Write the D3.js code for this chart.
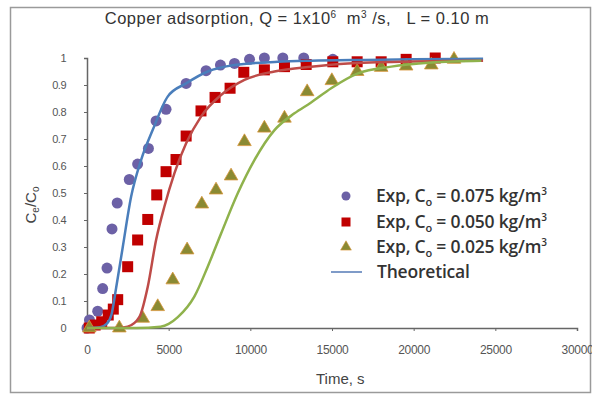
<!DOCTYPE html>
<html>
<head>
<meta charset="utf-8">
<script src="https://cdn.jsdelivr.net/npm/d3@7"></script>
<style>
  html, body { margin: 0; padding: 0; background: #fff; }
  svg { display: block; }
</style>
</head>
<body>
<script>
// experimental points (time in s, Ce/Co)
const expHighT = [0, 150, 655, 960, 1225, 1530, 1850, 2590, 3100, 3760, 4230, 4840, 6070, 7290, 8170, 9030, 9950, 10860, 11990, 13270, 15050];
const expHighV = [0, 0.03, 0.062, 0.146, 0.222, 0.367, 0.463, 0.55, 0.607, 0.665, 0.767, 0.81, 0.906, 0.953, 0.974, 0.98, 0.995, 1.0, 1.0, 1.0, 0.995];

const expMidT = [140, 500, 900, 1300, 1610, 1880, 2490, 3100, 3720, 4270, 4840, 5450, 6070, 6980, 7840, 8760, 9600, 10860, 12090, 13420, 15050, 16540, 18010, 19540, 21320];
const expMidV = [0, 0.011, 0.023, 0.048, 0.07, 0.105, 0.227, 0.326, 0.402, 0.493, 0.579, 0.624, 0.711, 0.804, 0.854, 0.888, 0.947, 0.956, 0.968, 0.976, 0.986, 0.986, 0.986, 0.995, 1.0];

const expLowT = [140, 1980, 3410, 4330, 5250, 6130, 7030, 7900, 8820, 9640, 10860, 12090, 13480, 14990, 16540, 18010, 19540, 21080, 22470];
const expLowV = [0, 0, 0.036, 0.079, 0.178, 0.289, 0.459, 0.511, 0.563, 0.69, 0.74, 0.777, 0.875, 0.916, 0.95, 0.965, 0.97, 0.974, 0.995];

// theoretical curves
const thHighT = [0, 800, 1200, 1500, 1780, 2190, 2700, 3310, 4020, 4940, 6070, 7390, 9030, 11680, 13720, 17000, 20000, 24250];
const thHighV = [0, 0.003, 0.015, 0.05, 0.147, 0.30, 0.486, 0.622, 0.733, 0.857, 0.906, 0.95, 0.974, 0.986, 0.99, 0.993, 0.995, 0.997];

const thMidT = [0, 1800, 2490, 3200, 3720, 4230, 4740, 5350, 6070, 6980, 8210, 9640, 11480, 13720, 15970, 20000, 24250];
const thMidV = [0, 0, 0.005, 0.04, 0.153, 0.326, 0.45, 0.573, 0.684, 0.783, 0.863, 0.919, 0.95, 0.968, 0.98, 0.987, 0.99];

const thLowT = [0, 3000, 4500, 5000, 5560, 6570, 7390, 8210, 9230, 10250, 11480, 12700, 13720, 14950, 16590, 18630, 21080, 24140];
const thLowV = [0, 0, 0.005, 0.015, 0.04, 0.116, 0.227, 0.35, 0.499, 0.622, 0.733, 0.795, 0.835, 0.888, 0.943, 0.968, 0.983, 0.99];

const xTicks = [0, 5000, 10000, 15000, 20000, 25000, 30000];
const yTicks = [0, 0.1, 0.2, 0.3, 0.4, 0.5, 0.6, 0.7, 0.8, 0.9, 1];
const legendLabels = ['0.075', '0.050', '0.025'];

const W = 592, H = 394;
const svg = d3.select('body').append('svg').attr('width', W).attr('height', H);

// outer chart frame
svg.append('rect')
  .attr('x', 10.5).attr('y', 7.5).attr('width', 580).attr('height', 385)
  .attr('fill', '#fff').attr('stroke', '#9a9a9a').attr('stroke-width', 1.5);

const x = d3.scaleLinear().domain([0, 30000]).range([87, 577]);
const y = d3.scaleLinear().domain([0, 1]).range([328, 58]);

const txt = '#555';
const tickFont = 'Liberation Sans, Arial, sans-serif';

// axes
const gx = svg.append('g').attr('transform', 'translate(0,328)')
  .call(d3.axisBottom(x).tickValues(xTicks).tickFormat(d3.format('d')).tickSize(3).tickPadding(14));
const gy = svg.append('g').attr('transform', 'translate(87,0)')
  .call(d3.axisLeft(y).tickValues(yTicks).tickFormat(d => d === 0 || d === 1 ? d : d.toFixed(1)).tickSize(3).tickPadding(18));
[gx, gy].forEach(g => {
  g.select('.domain').attr('stroke', '#666').attr('stroke-width', 1.5);
  g.selectAll('.tick line').attr('stroke', '#666');
  g.selectAll('.tick text').attr('fill', txt).attr('font-family', tickFont);
});
gx.selectAll('.tick text').attr('font-size', 12).attr('letter-spacing', -0.3);
gy.selectAll('.tick text').attr('font-size', 11).attr('letter-spacing', -0.5);

// title
const title = svg.append('text').attr('x', 297).attr('y', 24).attr('text-anchor', 'middle')
  .style('white-space', 'pre')
  .attr('font-family', tickFont).attr('font-size', 16.5).attr('fill', '#333').attr('letter-spacing', 0.5);
title.append('tspan').text('Copper adsorption, Q = 1x10');
title.append('tspan').attr('font-size', 10).attr('dy', -6).text('6');
title.append('tspan').attr('dy', 6).text('  m');
title.append('tspan').attr('font-size', 10).attr('dy', -6).text('3');
title.append('tspan').attr('dy', 6).text(' /s,   L = 0.10 m');

// axis titles
const yl = svg.append('text').attr('transform', 'translate(36,205) rotate(-90)')
  .attr('text-anchor', 'middle').attr('font-family', tickFont).attr('font-size', 15).attr('fill', '#444');
yl.append('tspan').text('C');
yl.append('tspan').attr('font-size', 10).attr('dy', 3).text('e');
yl.append('tspan').attr('dy', -3).text('/C');
yl.append('tspan').attr('font-size', 10).attr('dy', 3).text('o');

svg.append('text').attr('x', 316).attr('y', 384)
  .attr('font-family', tickFont).attr('font-size', 15).attr('fill', '#444').text('Time, s');

// markers
const circColor = '#6c61a6', sqColor = '#c00000', triColor = '#8a8a33', triEdge = '#d8953a';
const zip = (a, b) => a.map((t, i) => [t, b[i]]);

svg.append('g').selectAll('circle').data(zip(expHighT, expHighV)).join('circle')
  .attr('cx', d => x(d[0])).attr('cy', d => y(d[1])).attr('r', 5.5).attr('fill', circColor);

svg.append('g').selectAll('rect').data(zip(expMidT, expMidV)).join('rect')
  .attr('x', d => x(d[0]) - 5.5).attr('y', d => y(d[1]) - 5.5).attr('width', 11).attr('height', 11).attr('fill', sqColor);

const tri = d3.symbol().type(d3.symbolTriangle).size(80);
svg.append('g').selectAll('path').data(zip(expLowT, expLowV)).join('path')
  .attr('transform', d => `translate(${x(d[0])},${y(d[1])})`)
  .attr('d', tri).attr('fill', triColor).attr('stroke', triEdge).attr('stroke-width', 0.8);

// theoretical lines
const line = d3.line().x(d => x(d[0])).y(d => y(d[1])).curve(d3.curveMonotoneX);
[[thHighT, thHighV, '#4a7ebb'], [thMidT, thMidV, '#be4b48'], [thLowT, thLowV, '#8fb24c']].forEach(([t, v, c]) => {
  svg.append('path').datum(zip(t, v)).attr('d', line)
    .attr('fill', 'none').attr('stroke', c).attr('stroke-width', 2.5);
});

// legend
const lg = svg.append('g');
const legFont = 'Open Sans, Liberation Sans, sans-serif';
const rowY = [196, 222, 247, 272];
legendLabels.forEach((lab, i) => {
  const yy = rowY[i];
  if (i === 0) lg.append('circle').attr('cx', 346).attr('cy', yy).attr('r', 4.5).attr('fill', circColor);
  if (i === 1) lg.append('rect').attr('x', 341.5).attr('y', yy - 4.5).attr('width', 9).attr('height', 9).attr('fill', sqColor);
  if (i === 2) lg.append('path').attr('transform', `translate(346,${yy})`).attr('d', d3.symbol().type(d3.symbolTriangle).size(50))
    .attr('fill', triColor).attr('stroke', triEdge).attr('stroke-width', 0.6);
  const t = lg.append('text').attr('x', 376).attr('y', yy + 6)
    .attr('font-family', legFont).attr('font-weight', 600).attr('font-size', 17.5).attr('fill', '#333').attr('letter-spacing', -0.2);
  t.append('tspan').text('Exp, C');
  t.append('tspan').attr('font-size', 11).attr('dy', 4).text('o');
  t.append('tspan').attr('dy', -4).text(' = ' + lab + ' kg/m');
  t.append('tspan').attr('font-size', 10).attr('dy', -7).text('3');
});
lg.append('line').attr('x1', 331).attr('x2', 362).attr('y1', rowY[3]).attr('y2', rowY[3])
  .attr('stroke', '#7f9bc8').attr('stroke-width', 2);
lg.append('text').attr('x', 377).attr('y', rowY[3] + 6)
  .attr('font-family', legFont).attr('font-weight', 600).attr('font-size', 17.5).attr('fill', '#333').attr('letter-spacing', -0.2).text('Theoretical');
</script>
</body>
</html>
